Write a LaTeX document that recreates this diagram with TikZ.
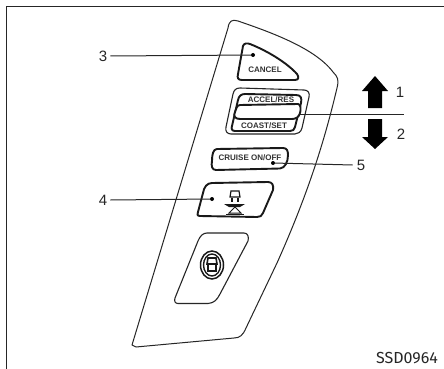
\documentclass[tikz,border=0pt]{standalone}
\usepackage{fontspec}
\setmainfont{Liberation Sans}
\newfontfamily\codefont{Fira Sans}
\tikzset{
  x=1pt,y=-1pt,
  panel/.style={line width=1pt,line join=round,black!85},
  btn/.style={line width=1.9pt,line join=round,black!90},
  lead/.style={line width=1pt,black!85},
  num/.style={font=\fontsize{15}{15}\selectfont,inner sep=0pt,black!85},
  tiny/.style={font=\fontsize{8}{8}\selectfont\bfseries,inner sep=0pt,black!80},
  dotn/.style={circle,fill=black,inner sep=0pt,minimum size=4pt},
  bigarrow/.style={fill=black,draw=none}
}
\begin{document}
\begin{tikzpicture}
\useasboundingbox (0,0) rectangle (444,369);
\fill[white] (0,0) rectangle (444,369);
% frame
\draw[line width=1.3pt,black!85] (6.5,369) -- (6.5,6.5) -- (444,6.5);
% outer panel
\draw[panel] (132,345) -- (228,28) .. controls (229,21) and (232,19) .. (238,21)
  .. controls (270,32) and (315,48) .. (333,72)
  .. controls (338,77) and (339,80) .. (337,88)
  .. controls (327,130) and (312,185) .. (277,263)
  -- (246,328) .. controls (243,335) and (240,338) .. (234,338)
  -- (136,347) -- cycle;
% cancel button
\draw[btn] (243,46) .. controls (244,43) and (247,43) .. (250,44)
  .. controls (270,52) and (288,64) .. (297,74)
  .. controls (299,77) and (299,80) .. (295,80)
  -- (242,80) .. controls (238,80) and (237,78) .. (238,74)
  -- cycle;
\node[tiny] (tcancel) at (265,70) {CANCEL};
% rocker switch
\draw[panel,line width=1.1pt] (240,88) -- (304,90) .. controls (308,90) and (310,93) .. (309,97)
  -- (302,128) .. controls (301,132) and (298,134) .. (295,134)
  -- (231,134) .. controls (227,134) and (225,131) .. (226,127)
  -- (233,94) .. controls (234,90) and (236,88) .. (240,88) -- cycle;
\draw[btn] (245,94) -- (296,95) .. controls (301,95) and (302,98) .. (301,103)
  -- (295,127) .. controls (294,130) and (293,131) .. (290,131)
  -- (235,131) .. controls (232,131) and (231,129) .. (232,126)
  -- (238,100) .. controls (239,96) and (241,94) .. (245,94) -- cycle;
\draw[btn,fill=white] (240,105) -- (298,104) .. controls (301,104) and (301,110) .. (300,113)
  .. controls (299,117) and (296,119) .. (292,119)
  -- (240,119) .. controls (235,119) and (233,116) .. (235,112) .. controls (236,109) and (237,105) .. (240,105) -- cycle;
\node[tiny] (taccel) at (271,99.5) {ACCEL/RES};
\node[tiny] (tcoast) at (264,125.5) {COAST/SET};
% cruise button
\draw[btn] (217,149) -- (283,148) .. controls (287,148) and (288,151) .. (288,155)
  .. controls (288,162) and (285,168) .. (280,168.5)
  -- (216,170) .. controls (212,170) and (211,166) .. (212,161)
  .. controls (212,155) and (213,149) .. (217,149) -- cycle;
\node[tiny] (tcruise) at (250,158) {CRUISE ON/OFF};
% button 4
\draw[btn] (212,183) -- (268,182) .. controls (272,182) and (274,185) .. (273,190)
  -- (263,213) .. controls (262,216) and (260,217) .. (257,217)
  -- (200,216) .. controls (197,216) and (197,214) .. (198,212)
  -- (203,193) .. controls (204,187) and (207,183) .. (212,183) -- cycle;
% icon on button 4
\draw[line width=1.2pt,black!90] (231,191) -- (239,191) -- (240,197) -- (230,197) -- cycle;
\draw[line width=1.6pt,black!90] (232,198) -- (232,202) (238,198) -- (238,202);
\fill[black!90] (224,204) -- (245,204) -- (240,207) -- (229,207) -- cycle;
\draw[line width=1pt,black!90] (235,207) -- (229,213) -- (241,213) -- cycle;
\draw[line width=1.2pt,black!90] (226,214.5) -- (244,214.5);
% lower recess
\draw[panel,line width=1.1pt] (207,233) -- (244,233) .. controls (248,233) and (249,237) .. (248,241)
  -- (220,294) .. controls (217,300) and (214,303) .. (208,303.5)
  -- (178,303.5) .. controls (175,303.5) and (174,301) .. (175,298)
  -- (198,241) .. controls (200,236) and (203,233) .. (207,233) -- cycle;
% knob
\draw[line width=1.5pt,black!90] (212,265) ellipse [x radius=11.5,y radius=14];
\draw[line width=1.4pt,black!90] (212,265) ellipse [x radius=8.5,y radius=11];
\draw[line width=1.6pt,black!90] (208,258) -- (216,258) -- (217,264) -- (207,264) -- cycle;
\draw[line width=1.6pt,black!90] (208,264) -- (208,271) -- (216,271) -- (216,264);
% arrows
\path[bigarrow] (375,76) -- (388,91) -- (382,91) -- (382,108) -- (368,108) -- (368,91) -- (362,91) -- cycle;
\path[bigarrow] (368,119) -- (382,119) -- (382,137) -- (388,137) -- (375,149) -- (362,137) -- (368,137) -- cycle;
% labels and leaders
\node[num] (n1) at (400,92) {1};
\node[num] (n2) at (401,134) {2};
\node[num] (n3) at (103,56) {3};
\node[num] (n4) at (103,200) {4};
\node[num] (n5) at (361,165) {5};
\node[dotn] (d3) at (253,55) {};
\node[dotn] (d4) at (212,199) {};
\node[dotn] (d5) at (273,163) {};
\coordinate (d1) at (300,114);
\coordinate (e1) at (404,114);
\draw[lead] (n3.east) ++(3,0) -- (d3);
\draw[lead] (n4.east) ++(3,0) -- (d4);
\draw[lead] (d5) -- ([xshift=-4pt]n5.west);
\draw[lead] (d1) -- (e1);
\node[font=\fontsize{16}{16}\selectfont\codefont,inner sep=0pt,black!85] (code) at (407,358) {SSD0964};
\end{tikzpicture}
\end{document}
